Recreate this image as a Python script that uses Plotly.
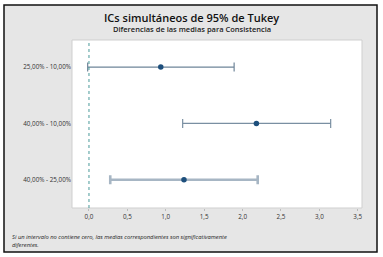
import plotly.graph_objects as go

labels = ["25,00% - 10,00%", "40,00% - 10,00%", "40,00% - 25,00%"]
means = [0.935, 2.18, 1.237]
lower = [-0.017, 1.22, 0.277]
upper = [1.89, 3.147, 2.197]
line_widths = [1.2, 1.2, 2.6]
line_colors = ["#6f8599", "#7a8fa2", "#a7b6c4"]

W, H = 383, 257
ml, mr, mt, mb = 72, 21, 40, 49
pw = W - ml - mr
ph = H - mt - mb

def px(x):
    return (x - ml) / pw

def py(y):
    return (H - mb - y) / ph

fig = go.Figure()
for i in range(len(labels)):
    fig.add_trace(go.Scatter(
        x=[means[i]], y=[i], mode="markers",
        marker=dict(color="#1d4f7c", size=5.5),
        error_x=dict(type="data", symmetric=False,
                     array=[upper[i] - means[i]],
                     arrayminus=[means[i] - lower[i]],
                     color=line_colors[i], thickness=line_widths[i], width=4.5),
        showlegend=False, hoverinfo="skip"))

# background panel with border
fig.add_shape(type="rect", xref="paper", yref="paper",
              x0=px(4), x1=px(377), y0=py(252), y1=py(5),
              fillcolor="#e6e6e6", line=dict(color="#111111", width=1.5), layer="below")
fig.add_shape(type="rect", xref="paper", yref="paper",
              x0=0, x1=1, y0=0, y1=1,
              fillcolor="white", line=dict(color="#cfcfcf", width=1), layer="below")
fig.add_shape(type="line", xref="x", yref="paper", x0=0, x1=0, y0=0, y1=1,
              line=dict(color="#4a9a9a", width=1, dash="dot"))

fig.add_annotation(text="ICs simultáneos de 95% de Tukey", xref="paper", yref="paper",
                   x=px(191.5), y=py(17), showarrow=False,
                   font=dict(family="Open Sans", size=11, color="#111111", weight=600),
                   xanchor="center", yanchor="middle")
fig.add_annotation(text="Diferencias de las medias para Consistencia", xref="paper", yref="paper",
                   x=px(191.5), y=py(29), showarrow=False,
                   font=dict(family="Open Sans", size=7.5, color="#222222", weight=600),
                   xanchor="center", yanchor="middle")
fig.add_annotation(text="<i>Si un intervalo no contiene cero, las medias correspondientes son significativamente<br>diferentes.</i>",
                   xref="paper", yref="paper", x=px(10), y=py(241), showarrow=False, align="left",
                   font=dict(family="Open Sans", size=5.8, color="#222222"), xanchor="left", yanchor="middle")

fig.update_layout(
    width=W, height=H, margin=dict(l=ml, r=mr, t=mt, b=mb),
    paper_bgcolor="white", plot_bgcolor="white",
    separators=",.",
    xaxis=dict(range=[-0.221, 3.555], tickvals=[0, 0.5, 1, 1.5, 2, 2.5, 3, 3.5],
               tickformat=".1f", showgrid=False, zeroline=False, showline=False,
               ticks="outside", ticklen=2, tickcolor="#bbbbbb",
               tickfont=dict(family="Open Sans", size=6.3, color="#333333")),
    yaxis=dict(range=[2.5, -0.48], tickvals=[0, 1, 2], ticktext=labels,
               showgrid=False, zeroline=False, showline=False, ticks="",
               tickfont=dict(family="Open Sans", size=6.3, color="#333333")),
)

fig.write_html("out.html", config={"displayModeBar": False},
               post_script="document.body.style.margin='0';document.body.style.overflow='hidden';")
